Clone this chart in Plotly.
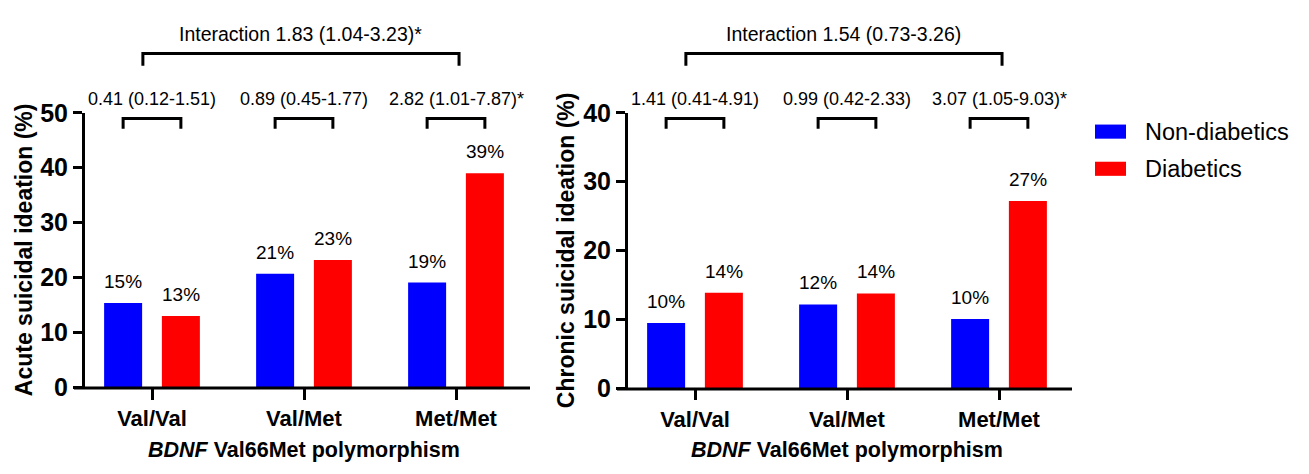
import plotly.graph_objects as go

# ---------------- data ----------------
categories = ["Val/Val", "Val/Met", "Met/Met"]
series_names = ["Non-diabetics", "Diabetics"]
acute_non = [15.4, 20.7, 19.1]
acute_dia = [13.0, 23.2, 39.0]
acute_non_lbl = ["15%", "21%", "19%"]
acute_dia_lbl = ["13%", "23%", "39%"]
chronic_non = [9.5, 12.2, 10.1]
chronic_dia = [13.9, 13.8, 27.2]
chronic_non_lbl = ["10%", "12%", "10%"]
chronic_dia_lbl = ["14%", "14%", "27%"]
acute_or = ["0.41 (0.12-1.51)", "0.89 (0.45-1.77)", "2.82 (1.01-7.87)*"]
chronic_or = ["1.41 (0.41-4.91)", "0.99 (0.42-2.33)", "3.07 (1.05-9.03)*"]
acute_inter = "Interaction 1.83 (1.04-3.23)*"
chronic_inter = "Interaction 1.54 (0.73-3.26)"
y_titles = ["Acute suicidal ideation (%)", "Chronic suicidal ideation (%)"]
x_title = "<b><i>BDNF</i> Val66Met polymorphism</b>"
y_ticks_acute = [0, 10, 20, 30, 40, 50]
y_ticks_chronic = [0, 10, 20, 30, 40]

BLUE = "#0000FF"
RED = "#FF0000"
FONT = "Arial, Liberation Sans, sans-serif"

W, H = 1309, 474
def px_x(p):
    return p / W
def px_y(p):
    return 1 - p / H

# geometry (pixels)
panels = [
    dict(xd=(85, 530), yd=(105, 397), c0=152, ymax=50, yt=y_ticks_acute,
         non=acute_non, dia=acute_dia, nl=acute_non_lbl, dl=acute_dia_lbl,
         orl=acute_or, inter=acute_inter, ytitle=y_titles[0], ytx=24, xa="x", ya="y"),
    dict(xd=(628, 1072), yd=(105, 398), c0=695, ymax=40, yt=y_ticks_chronic,
         non=chronic_non, dia=chronic_dia, nl=chronic_non_lbl, dl=chronic_dia_lbl,
         orl=chronic_or, inter=chronic_inter, ytitle=y_titles[1], ytx=566, xa="x2", ya="y2"),
]
SPACING = 152.0
BAR_W = 0.25
OFF = 0.19

fig = go.Figure()
shapes = []
annotations = []
xpos = list(range(len(categories)))

for i, p in enumerate(panels):
    r0 = -(p["c0"] - p["xd"][0]) / SPACING
    r1 = (p["xd"][1] - p["c0"]) / SPACING
    p["range"] = (r0, r1)

    def d2paper(x, p=p):
        r0, r1 = p["range"]
        return px_x(p["xd"][0] + (x - r0) / (r1 - r0) * (p["xd"][1] - p["xd"][0]))

    fig.add_trace(go.Bar(x=xpos, y=p["non"], name=series_names[0], marker_color=BLUE,
                         width=BAR_W, offset=-OFF - BAR_W / 2, xaxis=p["xa"], yaxis=p["ya"],
                         showlegend=False, marker_line_width=0))
    fig.add_trace(go.Bar(x=xpos, y=p["dia"], name=series_names[1], marker_color=RED,
                         width=BAR_W, offset=OFF - BAR_W / 2, xaxis=p["xa"], yaxis=p["ya"],
                         showlegend=False, marker_line_width=0))

    # value labels
    for k in xpos:
        for val, lbl, sgn in ((p["non"][k], p["nl"][k], -1), (p["dia"][k], p["dl"][k], 1)):
            annotations.append(dict(x=k + sgn * OFF, y=val, xref=p["xa"], yref=p["ya"],
                                    text=lbl, showarrow=False, xanchor="center",
                                    yanchor="bottom", yshift=9,
                                    font=dict(family=FONT, size=19, color="black")))
        # OR text + bracket
        annotations.append(dict(x=k, y=px_y(90), xref=p["xa"], yref="paper", text=p["orl"][k],
                                showarrow=False, xanchor="center", yanchor="middle",
                                font=dict(family=FONT, size=18, color="black")))
        xa_, xb_ = d2paper(k - OFF), d2paper(k + OFF)
        shapes.append(dict(type="path", xref="paper", yref="paper",
                           path=f"M{xa_},{px_y(122)} L{xa_},{px_y(111)} L{xb_},{px_y(111)} L{xb_},{px_y(122)}",
                           line=dict(color="black", width=3)))
    # interaction bracket
    xa_, xb_ = d2paper(-0.06), d2paper(2.02)
    shapes.append(dict(type="path", xref="paper", yref="paper",
                       path=f"M{xa_},{px_y(55)} L{xa_},{px_y(42)} L{xb_},{px_y(42)} L{xb_},{px_y(55)}",
                       line=dict(color="black", width=3)))
    annotations.append(dict(x=(xa_ + xb_) / 2, y=px_y(21), xref="paper", yref="paper",
                            text=p["inter"], showarrow=False, xanchor="center", yanchor="middle",
                            font=dict(family=FONT, size=19.5, color="black")))
    # x-axis baseline (extends slightly left of the y-axis, covers bar bottoms)
    shapes.append(dict(type="line", xref="paper", yref="paper",
                       x0=px_x(p["xd"][0] - 11), x1=px_x(p["xd"][1]),
                       y0=px_y(p["yd"][1] + 0.5), y1=px_y(p["yd"][1] + 0.5),
                       line=dict(color="black", width=3)))
    # axis titles
    annotations.append(dict(x=px_x(p["ytx"]), y=px_y(251), xref="paper", yref="paper",
                            text=f"<b>{p['ytitle']}</b>", textangle=-90, showarrow=False,
                            xanchor="center", yanchor="middle",
                            font=dict(family=FONT, size=23, color="black")))
    annotations.append(dict(x=d2paper(1), y=px_y(463), xref="paper", yref="paper",
                            text=x_title, showarrow=False, xanchor="center", yanchor="middle",
                            font=dict(family=FONT, size=21.5, color="black")))

    tick_common = dict(ticks="outside", tickcolor="black", tickwidth=2.5,
                       showgrid=False, zeroline=False, fixedrange=True)
    xkey = "xaxis" if i == 0 else "xaxis2"
    ykey = "yaxis" if i == 0 else "yaxis2"
    fig.update_layout(**{
        xkey: dict(domain=[px_x(p["xd"][0]), px_x(p["xd"][1])], range=list(p["range"]),
                   tickvals=xpos, ticktext=categories, ticklen=11, anchor=p["ya"],
                   showline=False,
                   tickfont=dict(family=FONT, size=22, color="black", weight="bold"),
                   **tick_common),
        ykey: dict(domain=[px_y(p["yd"][1]), px_y(p["yd"][0])], range=[0, p["ymax"]],
                   tickvals=p["yt"], ticklen=9, anchor=p["xa"],
                   showline=True, linecolor="black", linewidth=3,
                   tickfont=dict(family=FONT, size=25, color="black", weight="bold"),
                   **tick_common),
    })

# manual legend
for j, (name, col) in enumerate(zip(series_names, [BLUE, RED])):
    yc = 125 + j * 39.5
    shapes.append(dict(type="rect", xref="paper", yref="paper",
                       x0=px_x(1095), x1=px_x(1126), y0=px_y(yc - 7.5), y1=px_y(yc + 7.5),
                       fillcolor=col, line=dict(width=0)))
    annotations.append(dict(x=px_x(1143), y=px_y(yc), xref="paper", yref="paper",
                            text=name, showarrow=False, xanchor="left", yanchor="middle",
                            font=dict(family=FONT, size=23.5, color="black")))

fig.update_layout(width=W, height=H, margin=dict(l=0, r=0, t=0, b=0),
                  plot_bgcolor="white", paper_bgcolor="white", barmode="overlay",
                  shapes=shapes, annotations=annotations, showlegend=False)

fig.write_html("out.html", config={"displayModeBar": False},
               post_script="document.body.style.margin='0';document.body.style.padding='0';")
